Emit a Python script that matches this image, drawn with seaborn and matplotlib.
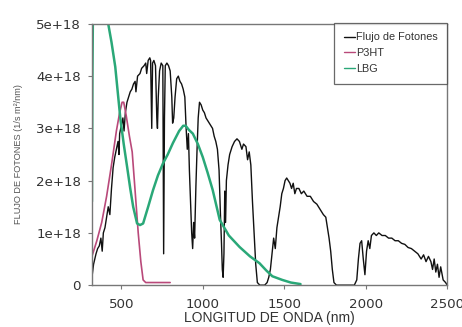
import matplotlib
matplotlib.use("Agg")
import matplotlib.pyplot as plt
import seaborn as sns
import numpy as np
import pandas as pd

# ---- data (flux in units of 1e18 photons / s m^2 nm) ----
flux_nm = [320, 330, 345, 355, 365, 375, 383, 390, 400, 410, 420, 430, 440, 450, 460, 470,
           480, 486, 490, 500, 510, 517, 525, 535, 545, 555, 565, 575, 585, 590, 600, 615,
           625, 640, 650, 656, 665, 675, 680, 687, 692, 700, 710, 718, 722, 727, 735, 745,
           755, 760, 765, 770, 780, 790, 800, 810, 815, 822, 830, 840, 850, 860, 870, 880,
           890, 898, 905, 912, 918, 925, 932, 938, 944, 950, 958, 965, 972, 980, 990, 1000,
           1010, 1020, 1030, 1040, 1050, 1060, 1070, 1080, 1090, 1100, 1108, 1115, 1120, 1125,
           1130, 1135, 1140, 1145, 1155, 1165, 1180, 1195, 1210, 1225, 1240, 1250, 1265, 1275,
           1285, 1295, 1305, 1315, 1325, 1335, 1350, 1365, 1380, 1395, 1405, 1415, 1425, 1435,
           1445, 1455, 1465, 1475, 1485, 1495, 1505, 1515, 1525, 1535, 1545, 1555, 1565, 1575,
           1590, 1605, 1620, 1640, 1660, 1680, 1700, 1720, 1740, 1755, 1765, 1775, 1785, 1795,
           1805, 1820, 1850, 1880, 1910, 1930, 1945, 1955, 1965, 1975, 1985, 1995, 2005, 2015,
           2025, 2035, 2050, 2065, 2080, 2100, 2120, 2140, 2160, 2180, 2200, 2220, 2240, 2260,
           2280, 2300, 2320, 2340, 2355, 2370, 2385, 2400, 2410, 2420, 2430, 2440, 2450, 2460,
           2475, 2490, 2500]
flux_val = [0.15, 0.4, 0.6, 0.7, 0.75, 0.9, 0.65, 1.0, 1.1, 1.3, 1.5, 1.35, 1.85, 2.25, 2.45, 2.6,
            2.75, 2.5, 2.9, 3.05, 3.2, 2.95, 3.3, 3.5, 3.6, 3.7, 3.75, 3.85, 3.9, 3.7, 4.0, 4.05,
            4.15, 4.2, 4.25, 4.05, 4.3, 4.35, 4.3, 3.0, 4.25, 4.3, 4.2, 3.2, 3.0, 3.6, 4.1, 4.25,
            4.2, 0.6, 3.2, 4.2, 4.25, 4.2, 4.1, 3.6, 3.1, 3.2, 3.6, 3.95, 4.0, 3.9, 3.85, 3.75,
            3.6, 3.0, 2.6, 2.9, 2.2, 1.6, 1.0, 0.7, 1.2, 0.9, 1.9, 2.6, 3.2, 3.5, 3.45, 3.35,
            3.3, 3.2, 3.15, 3.1, 3.05, 3.0, 2.85, 2.75, 2.6, 2.2, 1.4, 0.8, 0.3, 0.15,
            0.6, 1.8, 1.2, 2.0, 2.3, 2.5, 2.65, 2.75, 2.8, 2.75, 2.6, 2.7, 2.65, 2.4,
            2.55, 2.3, 1.6, 1.0, 0.4, 0.05, 0.0, 0.0, 0.0, 0.05, 0.15, 0.3, 0.6, 0.9,
            0.7, 1.1, 1.3, 1.5, 1.75, 1.85, 2.0, 2.05, 2.0, 1.95, 1.85, 1.95, 1.75, 1.85,
            1.85, 1.75, 1.8, 1.7, 1.7, 1.6, 1.55, 1.45, 1.35, 1.3, 1.1, 0.9, 0.65, 0.3,
            0.05, 0.0, 0.0, 0.0, 0.0, 0.0, 0.1, 0.5, 0.8, 0.85, 0.5, 0.2, 0.65, 0.85,
            0.7, 0.95, 1.0, 0.95, 1.0, 0.95, 0.95, 0.9, 0.9, 0.85, 0.85, 0.8, 0.78, 0.72,
            0.7, 0.65, 0.6, 0.5, 0.58, 0.45, 0.55, 0.45, 0.3, 0.5, 0.25, 0.4, 0.15, 0.35,
            0.1, 0.05, 0.0]

p3ht_nm = [320, 350, 380, 410, 440, 470, 490, 505, 515, 530, 550, 567, 585, 604, 620, 634, 650, 700, 750, 800]
p3ht_val = [0.55, 0.85, 1.2, 1.7, 2.3, 2.95, 3.3, 3.5, 3.5, 3.25, 2.85, 2.55, 1.8, 1.0, 0.45, 0.1, 0.05, 0.05, 0.05, 0.05]

lbg_nm = [320, 323, 328, 345, 380, 420, 440, 463, 494, 515, 536, 555, 573, 597, 615, 634, 665, 695,
          725, 756, 785, 817, 855, 880, 895, 915, 939, 970, 1000, 1030, 1061, 1104, 1160, 1226,
          1290, 1348, 1390, 1427, 1488, 1540, 1600]
lbg_val = [1.6, 4.0, 6.0, 7.0, 6.5, 5.0, 4.65, 4.18, 3.2, 2.7, 2.26, 1.85, 1.5, 1.18, 1.15, 1.18, 1.5, 1.82,
           2.1, 2.33, 2.5, 2.72, 2.95, 3.05, 3.05, 2.97, 2.9, 2.7, 2.45, 2.15, 1.82, 1.25, 0.95, 0.73,
           0.55, 0.42, 0.28, 0.17, 0.1, 0.05, 0.02]

series_names = ["Flujo de Fotones", "P3HT", "LBG"]
x_ticks = [500, 1000, 1500, 2000, 2500]
y_ticks = [0, 1e18, 2e18, 3e18, 4e18, 5e18]
y_tick_labels = ["0", "1e+18", "2e+18", "3e+18", "4e+18", "5e+18"]
x_label = "LONGITUD DE ONDA (nm)"
y_label = "FLUJO DE FOTONES (1/s m\u00b2/nm)"

# ---- figure ----
sns.set_style("white")
plt.rcParams["font.family"] = ["Liberation Sans", "DejaVu Sans"]

fig = plt.figure(figsize=(4.62, 3.27), dpi=100)
ax = fig.add_axes([0.199, 0.128, 0.769, 0.799])

df_flux = pd.DataFrame({"nm": flux_nm, "v": np.array(flux_val) * 1e18})
df_p3 = pd.DataFrame({"nm": p3ht_nm, "v": np.array(p3ht_val) * 1e18})
df_lbg = pd.DataFrame({"nm": lbg_nm, "v": np.array(lbg_val) * 1e18})

sns.lineplot(data=df_flux, x="nm", y="v", ax=ax, color="#111111", lw=1.0,
             label=series_names[0], estimator=None, sort=False)
sns.lineplot(data=df_p3, x="nm", y="v", ax=ax, color="#b9497a", lw=1.2,
             label=series_names[1], estimator=None, sort=False)
sns.lineplot(data=df_lbg, x="nm", y="v", ax=ax, color="#2aa878", lw=1.8,
             label=series_names[2], estimator=None, sort=False)

ax.set_xlim(320, 2500)
ax.set_ylim(0, 5e18)
ax.set_xticks(x_ticks)
ax.set_xticklabels([str(t) for t in x_ticks])
ax.set_yticks(y_ticks)
ax.set_yticklabels(y_tick_labels)
ax.yaxis.get_offset_text().set_visible(False)
ax.tick_params(axis="both", direction="out", length=3, width=0.8, color="#777777",
               labelsize=9.6, labelcolor="#333333", pad=5)
ax.tick_params(axis="x", bottom=True, pad=6)
ax.tick_params(axis="y", left=True)
for lab in ax.get_xticklabels() + ax.get_yticklabels():
    lab.set_family("DejaVu Sans")

for s in ax.spines.values():
    s.set_color("#777777")
    s.set_linewidth(1.0)

ax.set_xlabel(x_label, fontsize=10, color="#333333", labelpad=0)
ax.set_ylabel(y_label, fontsize=6.6, color="#555555", labelpad=9)

leg = ax.legend(loc="upper right", bbox_to_anchor=(1.0, 1.005), fontsize=7.8, frameon=True,
                handlelength=1.0, handletextpad=0.1, labelspacing=0.55, borderpad=0.9,
                fancybox=False, borderaxespad=0)
leg.get_frame().set_edgecolor("#444444")
leg.get_frame().set_linewidth(0.9)
for t in leg.get_texts():
    t.set_color("#333333")
for h in leg.get_lines():
    h.set_linewidth(1.0)

fig.savefig("out.png", dpi=100)
